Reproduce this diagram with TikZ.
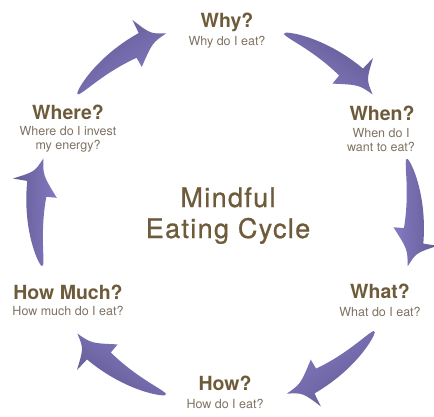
\documentclass[tikz,border=0pt]{standalone}
\usepackage{fontspec}
\setmainfont{TeX Gyre Heros}
\definecolor{titlebrown}{RGB}{110,91,58}
\definecolor{subbrown}{RGB}{128,114,98}
\definecolor{arrowhead}{RGB}{132,122,194}
\definecolor{arrowtail}{RGB}{98,92,148}
\newcommand{\cx}{225}
\newcommand{\cy}{214}
\newcommand{\cR}{190}
\newcommand{\polpt}[3]{%
  \pgfmathsetmacro\tmpx{\cx+(#3)*cos(#2)}%
  \pgfmathsetmacro\tmpy{\cy-(#3)*sin(#2)}%
  \coordinate (#1) at (\tmpx,\tmpy);}
\newcommand{\cyclearrow}[2]{%
  \polpt{#2-ob}{#1-25.5}{\cR+25}
  \polpt{#2-oc}{#1-28.5}{\cR+5}
  \polpt{#2-tip}{#1-33}{\cR}
  \polpt{#2-ic}{#1-28}{\cR-4}
  \polpt{#2-ib}{#1-21.5}{\cR-21}
  \pgfmathsetmacro\shang{#1-106.5}
  \shade[left color=arrowtail,right color=arrowhead,shading angle=\shang]
    plot[domain=0.01:1,samples=30,variable=\t]
      ({\cx+(\cR+10.5*(\t)^0.55)*cos(#1-25.5*\t)},{\cy-(\cR+10.5*(\t)^0.55)*sin(#1-25.5*\t)})
    -- (#2-ob) .. controls (#2-oc) .. (#2-tip)
    .. controls (#2-ic) .. (#2-ib)
    -- plot[domain=1:0.01,samples=30,variable=\t]
      ({\cx+(\cR-10.5*(\t)^0.55)*cos(#1-21.5*\t)},{\cy-(\cR-10.5*(\t)^0.55)*sin(#1-21.5*\t)})
    -- cycle;}
\tikzset{
  ttl/.style={text=titlebrown,font=\fontsize{19.5}{22}\selectfont\bfseries,anchor=base,inner sep=0pt},
  sub/.style={text=subbrown,font=\fontsize{12.5}{14}\selectfont,anchor=base,align=center,inner sep=0pt},
  bigtitle/.style={text=titlebrown,font=\fontsize{27}{31}\selectfont\addfontfeatures{LetterSpace=5,FakeBold=0.8},anchor=base,align=center,inner sep=0pt}
}
\begin{document}
\begin{tikzpicture}[x=1pt,y=-1pt]
\useasboundingbox (0,0) rectangle (434,416);
\fill[white] (0,0) rectangle (434,416);
% arrows
\cyclearrow{141}{a1}
\cyclearrow{72}{a2}
\cyclearrow{17}{a3}
\cyclearrow{-38}{a4}
\cyclearrow{-108}{a5}
\cyclearrow{-164}{a6}
% labels (multi-line nodes: anchor base = last line)
\node[ttl] (why) at (227,27) {Why?};
\node[sub] (whys) at (227,45) {Why do I eat?};
\node[ttl] (when) at (382,120) {When?};
\node[sub] (whens) at (381,151) {When do I\\want to eat?};
\node[ttl] (what) at (380,298) {What?};
\node[sub] (whats) at (380,316) {What do I eat?};
\node[ttl] (how) at (225,390.5) {How?};
\node[sub] (hows) at (225,408) {How do I eat?};
\node[ttl] (howmuch) at (68,299) {How Much?};
\node[sub] (howmuchs) at (68,315) {How much do I eat?};
\node[ttl] (where) at (68,119) {Where?};
\node[sub] (wheres) at (68,149) {Where do I invest\\my energy?};
\node[bigtitle] (title) at (228,238) {Mindful\\Eating Cycle};
\end{tikzpicture}
\end{document}
